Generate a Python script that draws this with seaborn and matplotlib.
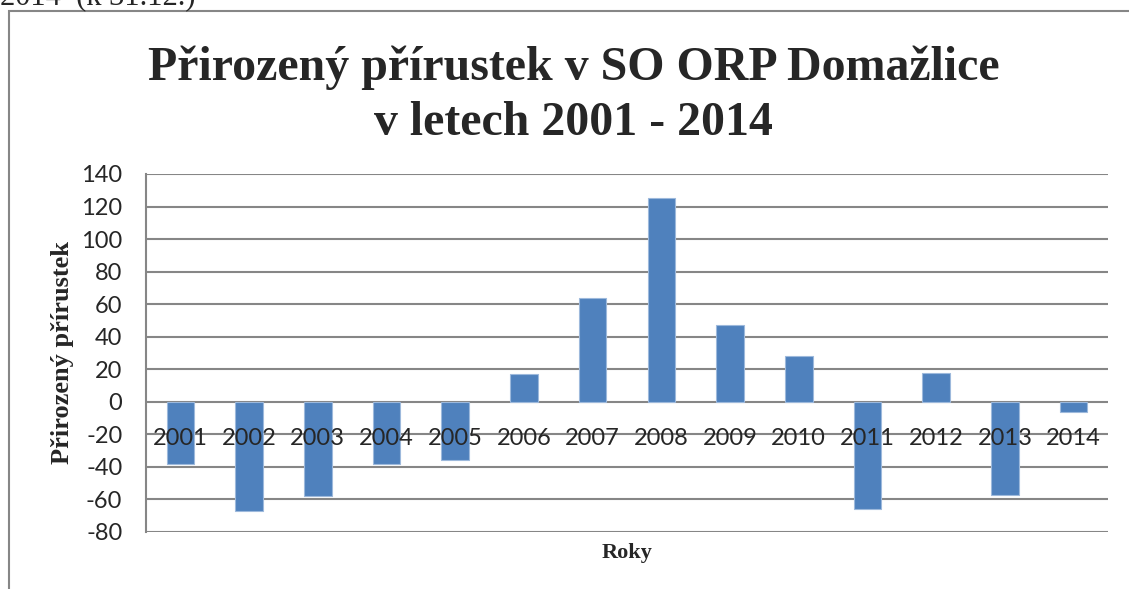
import numpy as np
import pandas as pd
import seaborn as sns
import matplotlib.pyplot as plt
from matplotlib.patches import Rectangle
from matplotlib.transforms import offset_copy

# natural population increase, SO ORP Domazlice
years = ["2001", "2002", "2003", "2004", "2005", "2006", "2007",
         "2008", "2009", "2010", "2011", "2012", "2013", "2014"]
increase = [-38, -67, -58, -38, -36, 17, 64, 125, 47, 28, -66, 18, -57, -6]
y_ticks = [-80, -60, -40, -20, 0, 20, 40, 60, 80, 100, 120, 140]

df = pd.DataFrame({"rok": years, "prirustek": increase})

sns.set_style("white")
serif = ["Liberation Serif", "DejaVu Serif"]
sans = ["Lato", "DejaVu Sans"]

fig = plt.figure(figsize=(11.29, 5.89), dpi=100)
ax = fig.add_axes([0.1293, 0.0968, 0.8521, 0.6078])

sns.barplot(data=df, x="rok", y="prirustek", color="#4F81BD", saturation=1,
            width=0.4, edgecolor="#9DB9DC", linewidth=0.8, ax=ax, zorder=2)

ax.set_ylim(-80, 140)
ax.set_yticks(y_ticks)
ax.set_yticklabels([str(t) for t in y_ticks], family=sans, fontsize=17)
ax.yaxis.grid(True, color="#868686", linewidth=1.5)
ax.set_axisbelow(True)

ax.spines["bottom"].set_visible(False)
ax.spines["top"].set_visible(False)
ax.spines["right"].set_visible(False)
ax.spines["left"].set_color("#868686")
ax.spines["left"].set_linewidth(1.5)
ax.spines["left"].set_zorder(3)
ax.tick_params(axis="y", length=0, pad=17)

# category labels sit just under the zero line, drawn over the bars
ax.set_xticks(range(len(years)))
ax.set_xticklabels([])
ax.tick_params(axis="x", length=0)
lab_tr = offset_copy(ax.transData, fig=fig, y=-37, units="dots")
for i, yr in enumerate(years):
    ax.text(i, 0, yr, transform=lab_tr, ha="center", va="center",
            family=sans, fontsize=17, zorder=5)

ax.set_xlabel("")
ax.set_ylabel("Přirozený přírustek", family=serif, fontsize=19,
              fontweight="bold", labelpad=5)
fig.text(0.5555, 0.061, "Roky", ha="center", va="center", family=serif,
         fontsize=16, fontweight="bold")

fig.text(0.508, 0.885, "Přirozený přírustek v SO ORP Domažlice",
         ha="center", va="center", family=serif, fontsize=34.5,
         fontweight="bold")
fig.text(0.508, 0.792, "v letech 2001 - 2014",
         ha="center", va="center", family=serif, fontsize=34.5,
         fontweight="bold")

# text cut off at the top of the page
fig.text(0.0, 0.993, "2014  (k 31.12.)", ha="left", va="baseline",
         family=serif, fontsize=22)

# chart frame
fig.patches.append(Rectangle((0.008, -0.05), 1.1, 1.031, transform=fig.transFigure,
                             fill=False, edgecolor="#868686", linewidth=1.5))

fig.savefig("out.png", dpi=100)
